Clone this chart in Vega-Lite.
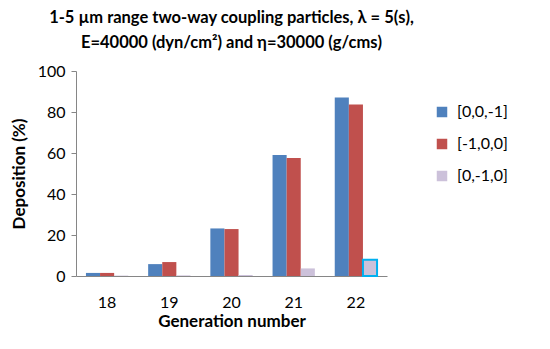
{
  "$schema": "https://vega.github.io/schema/vega-lite/v6.json",
  "width": 311,
  "height": 205,
  "padding": {"left": 10, "top": 9, "right": 5, "bottom": 5},
  "background": "white",
  "title": {
    "text": ["1-5 µm range two-way coupling particles, λ = 5(s),", "E=40000 (dyn/cm²) and η=30000 (g/cms)"],
    "fontSize": 16.5,
    "font": "Lato",
    "fontWeight": "bold",
    "color": "black",
    "anchor": "middle",
    "lineHeight": 25,
    "offset": 12
  },
  "data": {
    "values": [
      {"gen": "18", "series": "[0,0,-1]", "value": 1.5},
      {"gen": "18", "series": "[-1,0,0]", "value": 1.5},
      {"gen": "18", "series": "[0,-1,0]", "value": 0.2},
      {"gen": "19", "series": "[0,0,-1]", "value": 5.8},
      {"gen": "19", "series": "[-1,0,0]", "value": 6.8},
      {"gen": "19", "series": "[0,-1,0]", "value": 0.3},
      {"gen": "20", "series": "[0,0,-1]", "value": 23.2},
      {"gen": "20", "series": "[-1,0,0]", "value": 22.9},
      {"gen": "20", "series": "[0,-1,0]", "value": 0.5},
      {"gen": "21", "series": "[0,0,-1]", "value": 59.0},
      {"gen": "21", "series": "[-1,0,0]", "value": 57.6},
      {"gen": "21", "series": "[0,-1,0]", "value": 3.7},
      {"gen": "22", "series": "[0,0,-1]", "value": 87.1},
      {"gen": "22", "series": "[-1,0,0]", "value": 83.6},
      {"gen": "22", "series": "[0,-1,0]", "value": 7.9}
    ]
  },
  "mark": {"type": "bar"},
  "encoding": {
    "x": {
      "field": "gen",
      "type": "ordinal",
      "scale": {"paddingInner": 0.32, "paddingOuter": 0.16},
      "axis": {
        "title": "Generation number",
        "labelAngle": 0,
        "labelFont": "Lato",
        "labelFontSize": 16,
        "labelColor": "black",
        "labelPadding": 18,
        "ticks": false,
        "domainColor": "#868686",
        "titleFont": "Lato",
        "titleFontSize": 17,
        "titleFontWeight": "bold",
        "titleColor": "black",
        "titlePadding": 3
      }
    },
    "xOffset": {
      "field": "series",
      "type": "nominal",
      "sort": ["[0,0,-1]", "[-1,0,0]", "[0,-1,0]"],
      "scale": {"paddingInner": 0, "paddingOuter": 0}
    },
    "y": {
      "field": "value",
      "type": "quantitative",
      "scale": {"domain": [0, 100]},
      "axis": {
        "title": "Deposition (%)",
        "values": [0, 20, 40, 60, 80, 100],
        "grid": false,
        "labelFont": "Lato",
        "labelFontSize": 16,
        "labelColor": "black",
        "labelPadding": 6,
        "tickColor": "#868686",
        "tickSize": 5,
        "domainColor": "#868686",
        "titleFont": "Lato",
        "titleFontSize": 17,
        "titleFontWeight": "bold",
        "titleColor": "black",
        "titlePadding": 9
      }
    },
    "color": {
      "field": "series",
      "type": "nominal",
      "sort": ["[0,0,-1]", "[-1,0,0]", "[0,-1,0]"],
      "scale": {"range": ["#4F81BD", "#C0504D", "#CCC1DA"]},
      "legend": {
        "title": null,
        "symbolType": "square",
        "symbolSize": 110,
        "symbolStrokeWidth": 0,
        "labelFont": "Lato",
        "labelFontSize": 16,
        "labelColor": "black",
        "labelOffset": 7,
        "rowPadding": 16,
        "padding": 0,
        "orient": "none",
        "legendX": 358,
        "legendY": 33
      }
    },
    "stroke": {
      "condition": {"test": "datum.gen == '22' && datum.series == '[0,-1,0]'", "value": "#00B0F0"},
      "value": null
    },
    "strokeWidth": {"value": 2}
  },
  "config": {"view": {"stroke": null}}
}
